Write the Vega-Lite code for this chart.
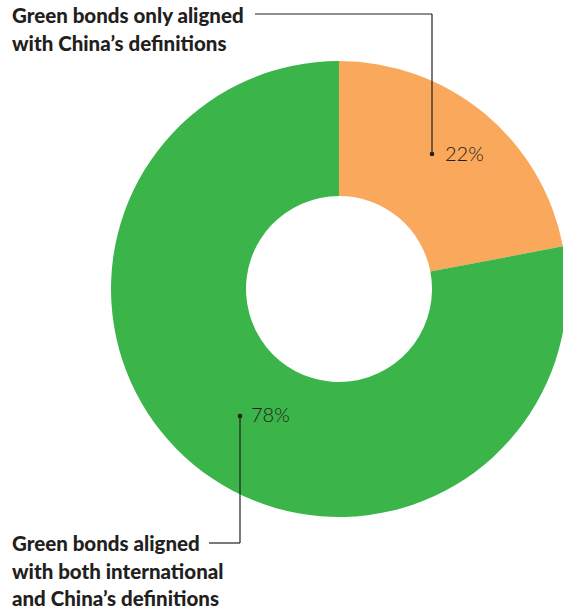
{
  "$schema": "https://vega.github.io/schema/vega-lite/v6.json",
  "width": 448,
  "height": 456,
  "autosize": {"type": "none"},
  "padding": {"left": 115, "top": 61, "right": 0, "bottom": 95},
  "background": "white",
  "config": {"view": {"stroke": null}},
  "datasets": {
    "shares": [
      {"category": "Green bonds only aligned with China's definitions", "share": 22, "ord": 1},
      {"category": "Green bonds aligned with both international and China's definitions", "share": 78, "ord": 2}
    ],
    "leaders": [
      {"x": -84, "y": 275, "x2": 93, "y2": 275},
      {"x": 93, "y": 275, "x2": 93, "y2": 135},
      {"x": -99, "y": -127, "x2": -99, "y2": -254},
      {"x": -130, "y": -254, "x2": -99, "y2": -254}
    ],
    "dots": [
      {"x": 93, "y": 135},
      {"x": -99, "y": -127}
    ],
    "pcts": [
      {"x": 106, "y": 134, "label": "22%"},
      {"x": -88, "y": -127, "label": "78%"}
    ],
    "titles": [
      {"x": -327, "y": 266, "label": "Green bonds only aligned\nwith China’s definitions"},
      {"x": -327, "y": -262, "label": "Green bonds aligned\nwith both international\nand China’s definitions"}
    ]
  },
  "layer": [
    {
      "data": {"name": "shares"},
      "mark": {"type": "arc", "outerRadius": 228, "innerRadius": 93},
      "encoding": {
        "theta": {"field": "share", "type": "quantitative", "stack": true},
        "order": {"field": "ord", "type": "quantitative"},
        "color": {
          "field": "category",
          "type": "nominal",
          "scale": {
            "domain": ["Green bonds only aligned with China's definitions", "Green bonds aligned with both international and China's definitions"],
            "range": ["#F9A85C", "#3BB54A"]
          },
          "legend": null
        }
      }
    },
    {
      "data": {"name": "leaders"},
      "mark": {"type": "rule", "color": "#231F20", "strokeWidth": 1.2},
      "encoding": {
        "x": {"field": "x", "type": "quantitative", "scale": {"domain": [-224, 224], "zero": false, "nice": false}, "axis": null},
        "y": {"field": "y", "type": "quantitative", "scale": {"domain": [-228, 228], "zero": false, "nice": false}, "axis": null},
        "x2": {"field": "x2"},
        "y2": {"field": "y2"}
      }
    },
    {
      "data": {"name": "dots"},
      "mark": {"type": "point", "filled": true, "size": 22, "color": "#231F20", "opacity": 1},
      "encoding": {
        "x": {"field": "x", "type": "quantitative"},
        "y": {"field": "y", "type": "quantitative"}
      }
    },
    {
      "data": {"name": "pcts"},
      "mark": {"type": "text", "align": "left", "baseline": "middle", "font": "Lato", "fontWeight": 300, "fontSize": 20, "color": "#231F20"},
      "encoding": {
        "x": {"field": "x", "type": "quantitative"},
        "y": {"field": "y", "type": "quantitative"},
        "text": {"field": "label", "type": "nominal"}
      }
    },
    {
      "data": {"name": "titles"},
      "mark": {"type": "text", "align": "left", "baseline": "alphabetic", "font": "Lato", "fontWeight": 900, "fontSize": 20.5, "lineHeight": 27.5, "lineBreak": "\n", "color": "#231F20"},
      "encoding": {
        "x": {"field": "x", "type": "quantitative"},
        "y": {"field": "y", "type": "quantitative"},
        "text": {"field": "label", "type": "nominal"}
      }
    }
  ]
}
